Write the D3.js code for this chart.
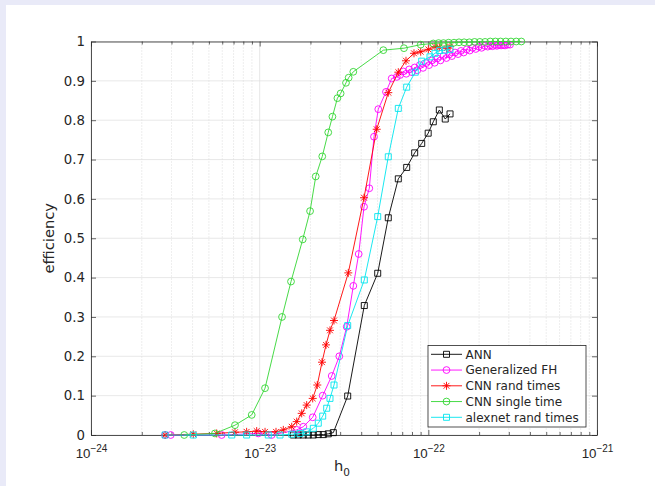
<!DOCTYPE html>
<html>
<head>
<meta charset="utf-8">
<script src="https://cdn.jsdelivr.net/npm/d3@7"></script>
<style>
body { margin: 0; background: #e9eaf8; }
svg { display: block; font-family: "DejaVu Sans", sans-serif; }
</style>
</head>
<body>
<svg id="chart" width="655" height="486"></svg>
<script>
// values (h0, efficiency)
var annH = [1.583e-23, 1.694e-23, 1.814e-23, 1.942e-23, 2.08e-23, 2.226e-23, 2.384e-23, 2.552e-23, 2.733e-23,
    3.326e-23, 4.172e-23, 5.01e-23, 5.789e-23, 6.637e-23, 7.443e-23, 8.3e-23, 9.135e-23, 9.98e-23,
    1.07e-22, 1.162e-22, 1.26e-22, 1.345e-22];
var annEff = [0, 0, 0, 0, 0, 0.001, 0.001, 0.003, 0.006,
    0.099, 0.329, 0.411, 0.552, 0.651, 0.68, 0.717, 0.741, 0.767,
    0.796, 0.826, 0.803, 0.816];

var fhH = [2.75e-24, 2.97e-24, 5.95e-24, 9.81e-24, 1.178e-23, 1.658e-23, 1.814e-23, 2.063e-23, 2.364e-23,
    2.674e-23, 2.966e-23, 3.281e-23, 3.591e-23, 3.865e-23, 4.156e-23, 4.467e-23, 4.762e-23, 5.05e-23,
    5.61e-23, 6.065e-23, 6.5e-23, 6.8e-23, 7.1e-23, 7.4e-23, 7.7e-23, 8.0e-23, 8.3e-23, 8.6e-23, 8.9e-23,
    9.3e-23, 9.7e-23, 1.01e-22, 1.05e-22, 1.09e-22, 1.13e-22, 1.18e-22, 1.23e-22, 1.28e-22, 1.33e-22,
    1.38e-22, 1.44e-22, 1.5e-22, 1.56e-22, 1.62e-22, 1.69e-22, 1.76e-22, 1.83e-22, 1.91e-22, 1.99e-22,
    2.07e-22, 2.16e-22, 2.25e-22, 2.33e-22, 2.4e-22, 2.48e-22, 2.55e-22, 2.62e-22, 2.7e-22, 2.78e-22,
    2.85e-22, 2.95e-22, 3.05e-22];
var fhEff = [0, 0, 0, 0.004, 0, 0.013, 0.021, 0.045, 0.1,
    0.15, 0.2, 0.275, 0.379, 0.46, 0.58, 0.627, 0.758, 0.828,
    0.872, 0.906, 0.91, 0.915, 0.924, 0.918, 0.929, 0.922, 0.934, 0.927, 0.94,
    0.933, 0.945, 0.94, 0.952, 0.946, 0.957, 0.952, 0.963, 0.958, 0.967,
    0.963, 0.972, 0.968, 0.976, 0.972, 0.98, 0.977, 0.984, 0.981, 0.987,
    0.984, 0.989, 0.987, 0.99, 0.988, 0.991, 0.989, 0.991, 0.99, 0.991,
    0.99, 0.992, 0.992];

var cnnRandH = [2.75e-24, 4.04e-24, 5.56e-24, 7.14e-24, 8.37e-24, 9.6e-24, 1.076e-23, 1.25e-23, 1.381e-23,
    1.549e-23, 1.658e-23, 1.775e-23, 1.9e-23, 2.063e-23, 2.196e-23, 2.342e-23, 2.474e-23, 2.612e-23,
    2.759e-23, 3.354e-23, 4.156e-23, 4.942e-23, 5.789e-23, 6.637e-23, 7.372e-23, 8.222e-23, 9.01e-23,
    1.0e-22, 1.095e-22, 1.162e-22, 1.285e-22, 1.345e-22];
var cnnRandEff = [0, 0.002, 0.004, 0.007, 0.008, 0.01, 0.008, 0.008, 0.013,
    0.021, 0.034, 0.055, 0.076, 0.093, 0.127, 0.185, 0.229, 0.266,
    0.291, 0.412, 0.603, 0.777, 0.87, 0.922, 0.951, 0.97, 0.974,
    0.98, 0.987, 0.985, 0.983, 0.987];

var cnnSingleH = [3.57e-24, 5.43e-24, 7.14e-24, 8.97e-24, 1.076e-23, 1.357e-23, 1.534e-23, 1.8e-23, 1.99e-23,
    2.15e-23, 2.35e-23, 2.55e-23, 2.7e-23, 2.89e-23, 3.02e-23, 3.25e-23, 3.37e-23, 3.59e-23,
    5.41e-23, 7.17e-23, 9.01e-23, 1.07e-22, 1.15e-22, 1.23e-22, 1.32e-22, 1.42e-22, 1.52e-22,
    1.63e-22, 1.75e-22, 1.88e-22, 2.02e-22, 2.17e-22, 2.33e-22, 2.5e-22, 2.68e-22, 2.88e-22,
    3.09e-22, 3.32e-22, 3.56e-22];
var cnnSingleEff = [0, 0.004, 0.025, 0.051, 0.119, 0.3, 0.39, 0.497, 0.569,
    0.657, 0.708, 0.769, 0.809, 0.856, 0.868, 0.895, 0.908, 0.923,
    0.978, 0.983, 0.992, 0.995, 0.996, 0.996, 0.997, 0.997, 0.998,
    0.998, 0.998, 0.999, 0.999, 0.999, 1, 1, 1, 1,
    1, 1, 1];

var alexH = [2.75e-24, 4.04e-24, 6.83e-24, 8.37e-24, 1.125e-23, 1.32e-23, 1.549e-23, 1.734e-23, 1.9e-23,
    2.08e-23, 2.226e-23, 2.364e-23, 2.497e-23, 2.612e-23, 2.759e-23, 3.326e-23, 4.172e-23, 5.01e-23,
    5.789e-23, 6.637e-23, 7.443e-23, 8.368e-23, 9.135e-23, 1.023e-22, 1.095e-22, 1.162e-22, 1.255e-22,
    1.345e-22];
var alexEff = [0, 0, 0, 0, 0, 0, 0.002, 0.004, 0.008,
    0.017, 0.03, 0.048, 0.068, 0.093, 0.127, 0.278, 0.394, 0.555,
    0.707, 0.83, 0.884, 0.922, 0.95, 0.961, 0.97, 0.977, 0.978,
    0.98];

var seriesNames = ["ANN", "Generalized FH", "CNN rand times", "CNN single time", "alexnet rand times"];
var xTickExp = ["\u221224", "\u221223", "\u221222", "\u221221"];

var series = [
    {name: seriesNames[0], h: annH, e: annEff, color: "#000000", marker: "square"},
    {name: seriesNames[1], h: fhH, e: fhEff, color: "#ff00ff", marker: "circle"},
    {name: seriesNames[2], h: cnnRandH, e: cnnRandEff, color: "#ff0000", marker: "star"},
    {name: seriesNames[3], h: cnnSingleH, e: cnnSingleEff, color: "#33d633", marker: "circle"},
    {name: seriesNames[4], h: alexH, e: alexEff, color: "#00e5ee", marker: "square"}
];

var svg = d3.select("#chart");
svg.append("rect").attr("width", 655).attr("height", 486).attr("fill", "#e9eaf8");
svg.append("rect").attr("x", 6).attr("y", 5).attr("width", 649).attr("height", 481).attr("fill", "#ffffff");

var pLeft = 91, pRight = 597, pTop = 41.5, pBottom = 435;
var x = d3.scaleLog().domain([1e-24, 1e-21]).range([pLeft, pRight]);
var y = d3.scaleLinear().domain([0, 1]).range([pBottom, pTop]);

var allTicks = x.ticks();
var majorTicks = allTicks.filter(function(d) { return Math.abs(Math.log10(d) - Math.round(Math.log10(d))) < 1e-6; });
var minorTicks = allTicks.filter(function(d) { return majorTicks.indexOf(d) < 0; });
var yTicks = y.ticks(10);

// grid
var grid = svg.append("g");
grid.selectAll(".mg").data(minorTicks).enter().append("line")
    .attr("x1", function(d) { return x(d); }).attr("x2", function(d) { return x(d); })
    .attr("y1", pTop).attr("y2", pBottom)
    .attr("stroke", "#cfcfcf").attr("stroke-width", 0.7).attr("stroke-dasharray", "1,2");
grid.selectAll(".vg").data(majorTicks).enter().append("line")
    .attr("x1", function(d) { return x(d); }).attr("x2", function(d) { return x(d); })
    .attr("y1", pTop).attr("y2", pBottom)
    .attr("stroke", "#dedede").attr("stroke-width", 0.7);
grid.selectAll(".hg").data(yTicks).enter().append("line")
    .attr("x1", pLeft).attr("x2", pRight)
    .attr("y1", function(d) { return y(d); }).attr("y2", function(d) { return y(d); })
    .attr("stroke", "#dedede").attr("stroke-width", 0.7);

// axes with inward ticks
function styleAxis(g) {
    g.selectAll(".domain").attr("stroke", "#262626").attr("stroke-width", 0.8);
    g.selectAll(".tick line").attr("stroke", "#262626").attr("stroke-width", 0.7);
    g.selectAll("text").attr("fill", "#262626").style("font-family", "DejaVu Sans").style("font-size", "13.3px");
}
var xb = svg.append("g").attr("transform", "translate(0," + pBottom + ")")
    .call(d3.axisBottom(x).tickValues(majorTicks).tickSizeInner(-5).tickSizeOuter(0).tickFormat(""));
styleAxis(xb);
xb.selectAll(".tick text").remove();
svg.append("g").attr("transform", "translate(0," + pBottom + ")")
    .call(d3.axisBottom(x).tickValues(minorTicks).tickSize(-3).tickFormat(""))
    .call(styleAxis).select(".domain").remove();
svg.append("g").attr("transform", "translate(0," + pTop + ")")
    .call(d3.axisTop(x).tickValues(majorTicks).tickSizeInner(-5).tickSizeOuter(0).tickFormat(""))
    .call(styleAxis);
svg.append("g").attr("transform", "translate(0," + pTop + ")")
    .call(d3.axisTop(x).tickValues(minorTicks).tickSize(-3).tickFormat(""))
    .call(styleAxis).select(".domain").remove();
svg.append("g").attr("transform", "translate(" + pLeft + ",0)")
    .call(d3.axisLeft(y).tickValues(yTicks).tickSizeInner(-5).tickSizeOuter(0).tickPadding(6).tickFormat(d3.format("~g")))
    .call(styleAxis);
svg.append("g").attr("transform", "translate(" + pRight + ",0)")
    .call(d3.axisRight(y).tickValues(yTicks).tickSizeInner(-5).tickSizeOuter(0).tickFormat(""))
    .call(styleAxis);

// x tick labels as 10^n
xb.selectAll(".tick").each(function(d, i) {
    var t = d3.select(this).append("text")
        .attr("y", 23).attr("fill", "#262626").attr("text-anchor", "middle")
        .style("font-size", "13.3px");
    t.append("tspan").text("10");
    t.append("tspan").attr("dy", -6.5).style("font-size", "10px").text(xTickExp[i]);
});

// axis labels
svg.append("text").attr("x", (pLeft + pRight) / 2 - 2).attr("y", 471)
    .attr("text-anchor", "middle").attr("fill", "#262626").style("font-size", "14.7px")
    .call(function(t) {
        t.append("tspan").text("h");
        t.append("tspan").attr("dy", 5).style("font-size", "10.5px").text("0");
    });
svg.append("text").attr("transform", "translate(54," + ((pTop + pBottom) / 2) + ") rotate(-90)")
    .attr("text-anchor", "middle").attr("fill", "#262626").style("font-size", "14.7px")
    .text("efficiency");

function markerPath(kind) {
    if (kind === "circle") return d3.symbol().type(d3.symbolCircle).size(Math.PI * 3.4 * 3.4)();
    if (kind === "square") return d3.symbol().type(d3.symbolSquare).size(36)();
    var a = 4, b = 2.9;
    return "M" + (-a) + ",0H" + a + "M0," + (-a) + "V" + a +
        "M" + (-b) + "," + (-b) + "L" + b + "," + b + "M" + (-b) + "," + b + "L" + b + "," + (-b);
}

var line = d3.line()
    .x(function(d) { return x(d[0]); })
    .y(function(d) { return y(d[1]); });

var plot = svg.append("g");
series.forEach(function(s) {
    var pts = d3.zip(s.h, s.e);
    plot.append("path").datum(pts)
        .attr("d", line).attr("fill", "none")
        .attr("stroke", s.color).attr("stroke-width", 0.9);
    plot.append("g").selectAll("path").data(pts).enter().append("path")
        .attr("transform", function(d) { return "translate(" + x(d[0]) + "," + y(d[1]) + ")"; })
        .attr("d", markerPath(s.marker))
        .attr("fill", "none").attr("stroke", s.color).attr("stroke-width", 0.9);
});

// legend
var lg = svg.append("g");
lg.append("rect").attr("x", 428).attr("y", 345.5).attr("width", 158).attr("height", 81.5)
    .attr("fill", "#ffffff").attr("stroke", "#262626").attr("stroke-width", 0.8);
series.forEach(function(s, i) {
    var yy = 354.3 + i * 15.75;
    lg.append("line").attr("x1", 431).attr("x2", 462).attr("y1", yy).attr("y2", yy)
        .attr("stroke", s.color).attr("stroke-width", 0.9);
    lg.append("path").attr("transform", "translate(446.5," + yy + ")")
        .attr("d", markerPath(s.marker)).attr("fill", "none")
        .attr("stroke", s.color).attr("stroke-width", 0.9);
    lg.append("text").attr("x", 465.5).attr("y", yy).attr("dy", "0.36em")
        .attr("fill", "#262626").style("font-size", "12px").text(s.name);
});
</script>
</body>
</html>
